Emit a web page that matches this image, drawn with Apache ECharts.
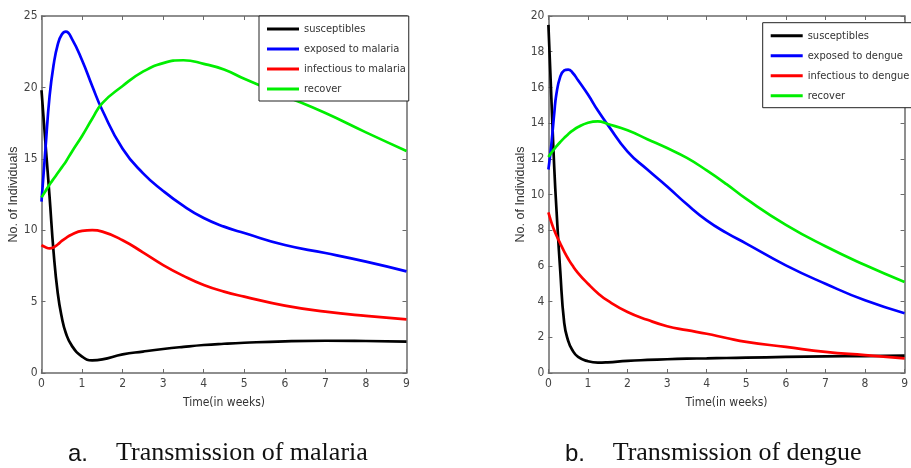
<!DOCTYPE html>
<html>
<head>
<meta charset="utf-8">
<script src="https://cdn.jsdelivr.net/npm/echarts@6/dist/echarts.min.js"></script>
<style>
  html, body { margin: 0; padding: 0; background: #fff; }
  #chart { width: 911px; height: 468px; }
</style>
</head>
<body>
<div id="chart"></div>
<script>
// Malaria model: time (weeks) and compartment sizes
const tMalaria = [0, 0.1, 0.2, 0.3, 0.4, 0.5, 0.6, 0.75, 1, 1.25, 1.5, 2, 2.5, 3, 3.5, 4, 4.5, 5, 6, 7, 8, 9];
const malariaSusceptible = [19.8, 16.0, 12.3, 8.4, 5.6, 3.9, 2.8, 1.9, 1.15, 0.88, 0.95, 1.3, 1.5, 1.68, 1.83, 1.96, 2.05, 2.12, 2.22, 2.26, 2.24, 2.2];
const malariaExposed = [12.0, 15.8, 19.4, 21.6, 23.0, 23.7, 23.9, 23.4, 21.9, 20.1, 18.4, 15.7, 14.0, 12.75, 11.7, 10.85, 10.25, 9.8, 8.96, 8.4, 7.8, 7.12];
const malariaInfectious = [8.95, 8.8, 8.73, 8.8, 9.0, 9.25, 9.45, 9.7, 9.95, 10.0, 9.9, 9.3, 8.45, 7.56, 6.8, 6.16, 5.7, 5.35, 4.72, 4.3, 4.0, 3.76];
const malariaRecovered = [12.3, 12.75, 13.2, 13.6, 14.0, 14.4, 14.8, 15.5, 16.6, 17.8, 18.9, 20.1, 21.1, 21.7, 21.9, 21.65, 21.25, 20.6, 19.4, 18.2, 16.85, 15.55];

// Dengue model
const tDengue = [0, 0.05, 0.1, 0.15, 0.2, 0.3, 0.4, 0.5, 0.6, 0.75, 1, 1.25, 1.5, 2, 2.5, 3, 3.5, 4, 4.5, 5, 6, 7, 8, 9];
const dengueSusceptible = [19.5, 16.8, 14.0, 11.4, 9.3, 5.7, 2.8, 1.8, 1.3, 0.9, 0.66, 0.58, 0.6, 0.68, 0.73, 0.77, 0.8, 0.82, 0.84, 0.86, 0.9, 0.93, 0.95, 0.97];
const dengueExposed = [11.4, 12.3, 13.4, 14.6, 15.6, 16.6, 16.95, 17.0, 16.85, 16.4, 15.6, 14.7, 13.9, 12.4, 11.4, 10.45, 9.45, 8.55, 7.85, 7.25, 6.03, 5.0, 4.07, 3.35];
const dengueInfectious = [9.0, 8.62, 8.28, 7.98, 7.72, 7.25, 6.8, 6.4, 6.05, 5.6, 5.0, 4.47, 4.05, 3.42, 2.98, 2.62, 2.4, 2.2, 1.96, 1.74, 1.46, 1.18, 1.0, 0.82];
const dengueRecovered = [12.1, 12.26, 12.41, 12.55, 12.69, 12.94, 13.17, 13.38, 13.56, 13.78, 14.02, 14.1, 13.95, 13.6, 13.1, 12.6, 12.05, 11.35, 10.58, 9.75, 8.3, 7.1, 6.05, 5.1];

const malariaNames = ['susceptibles', 'exposed to malaria', 'infectious to malaria', 'recover'];
const dengueNames = ['susceptibles', 'exposed to dengue', 'infectious to dengue', 'recover'];
const lineColors = ['#000000', '#0000ff', '#ff0000', '#00ee00'];

const AXIS_COLOR = '#6a6a6a';
const NARROW = '"DejaVu Sans Condensed", "Liberation Sans Narrow", "Liberation Sans", sans-serif';
const TICK_FONT = { fontFamily: NARROW, fontSize: 12, color: '#444' };

function pairs(t, v) { return t.map((x, i) => [x, v[i]]); }

function xAxis(gridIndex, position, showLabels) {
  return {
    type: 'value', gridIndex, position, min: 0, max: 9, interval: 1,
    name: showLabels ? 'Time(in weeks)' : '', nameLocation: 'middle', nameGap: 24,
    nameTextStyle: { fontFamily: NARROW, fontSize: 12, color: '#333' },
    axisLine: { show: true, onZero: false, lineStyle: { color: AXIS_COLOR, width: 1.5 } },
    axisTick: { show: true, inside: true, length: 4, lineStyle: { color: AXIS_COLOR } },
    axisLabel: { show: showLabels, margin: 5, ...TICK_FONT },
    splitLine: { show: false }
  };
}

function yAxis(gridIndex, position, max, interval, showLabels) {
  return {
    type: 'value', gridIndex, position, min: 0, max, interval,
    name: showLabels ? 'No. of Individuals' : '', nameLocation: 'middle', nameGap: 21,
    nameTextStyle: { fontFamily: '"Liberation Sans", sans-serif', fontSize: 12.5, color: '#333' },
    axisLine: { show: true, onZero: false, lineStyle: { color: AXIS_COLOR, width: 1.5 } },
    axisTick: { show: true, inside: true, length: 4, lineStyle: { color: AXIS_COLOR } },
    axisLabel: { show: showLabels, margin: 4, ...TICK_FONT },
    splitLine: { show: false }
  };
}

function legend(names, left, top) {
  return {
    data: names, orient: 'vertical', left, top, selectedMode: false,
    icon: 'rect', itemWidth: 32, itemHeight: 3, itemGap: 8,
    padding: [7, 3, 6, 8],
    borderColor: '#222', borderWidth: 1, backgroundColor: '#fff',
    textStyle: { fontFamily: NARROW, fontSize: 11, lineHeight: 12, color: '#333' }
  };
}

function lineSeries(name, color, data, axisIdx) {
  return {
    type: 'line', name, data, xAxisIndex: axisIdx, yAxisIndex: axisIdx,
    showSymbol: false, smooth: 0.5,
    lineStyle: { color, width: 2.7 }, itemStyle: { color },
    z: 3
  };
}

const malariaData = [malariaSusceptible, malariaExposed, malariaInfectious, malariaRecovered];
const dengueData = [dengueSusceptible, dengueExposed, dengueInfectious, dengueRecovered];

const series = [];
malariaNames.forEach((n, i) => series.push(lineSeries(n, lineColors[i], pairs(tMalaria, malariaData[i]), 0)));
dengueNames.forEach((n, i) => series.push(lineSeries(n, lineColors[i], pairs(tDengue, dengueData[i]), 1)));

const chart = echarts.init(document.getElementById('chart'), null, { renderer: 'canvas' });
chart.setOption({
  backgroundColor: '#ffffff',
  animation: false,
  grid: [
    { left: 41.5, top: 16, width: 365, height: 357 },
    { left: 548.4, top: 16, width: 365.5, height: 357 }
  ],
  xAxis: [
    xAxis(0, 'bottom', true), xAxis(1, 'bottom', true),
    xAxis(0, 'top', false), xAxis(1, 'top', false)
  ],
  yAxis: [
    yAxis(0, 'left', 25, 5, true), yAxis(1, 'left', 20, 2, true),
    yAxis(0, 'right', 25, 5, false), yAxis(1, 'right', 20, 2, false)
  ],
  legend: [legend(malariaNames, 259, 16), legend(dengueNames, 762.7, 22.7)],
  series,
  graphic: [
    { type: 'text', left: 68, top: 442, style: { text: 'a.', font: '24px "Liberation Sans", sans-serif', fill: '#111' } },
    { type: 'text', left: 116, top: 440, style: { text: 'Transmission of malaria', font: '26px "Liberation Serif", serif', fill: '#111' } },
    { type: 'text', left: 565, top: 442, style: { text: 'b.', font: '24px "Liberation Sans", sans-serif', fill: '#111' } },
    { type: 'text', left: 612.7, top: 440, style: { text: 'Transmission of dengue', font: '26px "Liberation Serif", serif', fill: '#111' } }
  ]
});
</script>
</body>
</html>
